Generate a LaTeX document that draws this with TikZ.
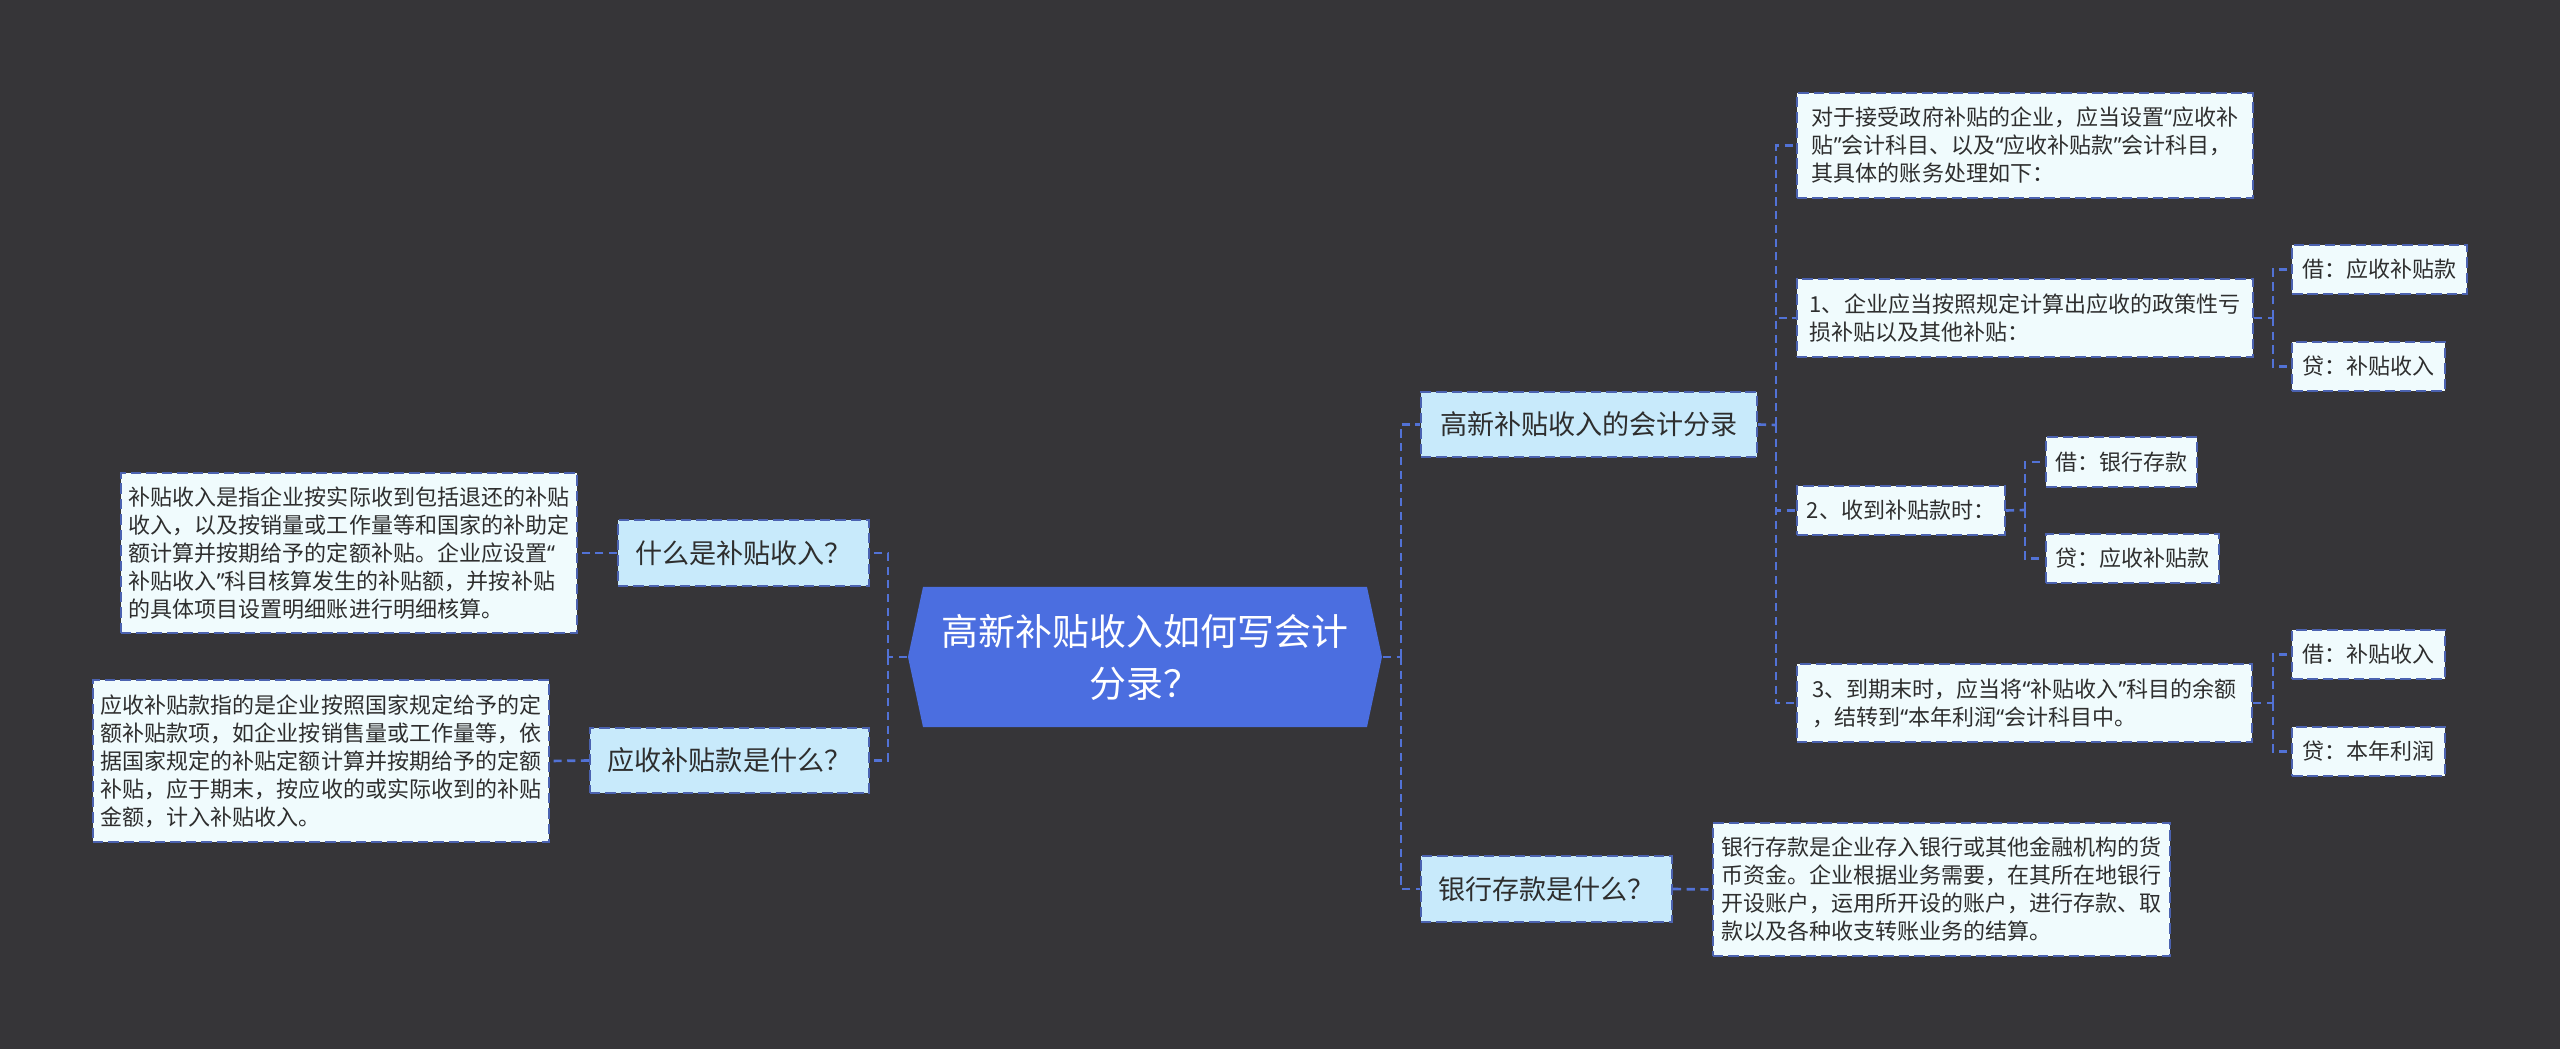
\documentclass[tikz,border=0pt]{standalone}
\usepackage{fontspec}
\setmainfont{Noto Sans CJK SC}
\newfontfamily\quotefont{Noto Sans}
\newcommand{\qo}{{\quotefont “}}
\newcommand{\qc}{{\quotefont ”}}

\definecolor{bgdark}{HTML}{363538}
\definecolor{rootblue}{HTML}{4B6EE0}
\definecolor{linkblue}{HTML}{5272D6}
\definecolor{qfill}{HTML}{C8EAFB}
\definecolor{leaffill}{HTML}{F0FBFD}
\definecolor{edgeblue}{HTML}{4B62B0}
\definecolor{inkgray}{HTML}{2E2E2E}

\begin{document}
\begin{tikzpicture}[x=0.01cm, y=-0.01cm,
    question/.style={draw=edgeblue, fill=qfill, line width=0.5pt,
        dash pattern=on 3pt off 1.4pt, inner sep=0pt, text=inkgray,
        font=\fontsize{7.7}{9}\selectfont},
    leaf/.style={draw=edgeblue, fill=leaffill, line width=0.5pt,
        dash pattern=on 3pt off 1.4pt, inner sep=0pt, text=inkgray,
        align=left, font=\fontsize{6.26}{7.97}\selectfont},
    link/.style={draw=linkblue, line width=0.75pt,
        dash pattern=on 2.3pt off 1.6pt}]

    % фон
    \fill[bgdark] (0,0) rectangle (2560,1049);
    \useasboundingbox (0,0) rectangle (2560,1049);

    % центр
    \coordinate (R1) at (908,657);
    \coordinate (R2) at (923,587);
    \coordinate (R3) at (1367,587);
    \coordinate (R4) at (1382,657);
    \coordinate (R5) at (1367,727);
    \coordinate (R6) at (923,727);
    \fill[rootblue] (R1) -- (R2) -- (R3) -- (R4) -- (R5) -- (R6) -- cycle;
    \node[minimum width=4.74cm, minimum height=1.4cm, inner sep=0pt,
        text=white, align=center, font=\fontsize{10.5}{14.8}\selectfont]
        (root) at (1145,657) {高新补贴收入如何写会计\\分录？};

    % шины
    \coordinate (busL) at (888,657);
    \coordinate (busR) at (1401,657);
    \coordinate (busQ3) at (1776,425);
    \coordinate (busS1) at (2273,318);
    \coordinate (busS2) at (2025,510);
    \coordinate (busS3) at (2273,703);

    % левая сторона
    \node[question, minimum width=2.51cm, minimum height=0.66cm]
        (q1) at (743.5,553) {什么是补贴收入？};
    \node[question, minimum width=2.79cm, minimum height=0.65cm]
        (q2) at (729.5,760.5) {应收补贴款是什么？};
    \node[leaf, minimum width=4.56cm, minimum height=1.6cm] (a1) at (349,553)
        {补贴收入是指企业按实际收到包括退还的补贴\\
         收入，以及按销量或工作量等和国家的补助定\\
         额计算并按期给予的定额补贴。企业应设置\qo\\
         补贴收入\qc 科目核算发生的补贴额，并按补贴\\
         的具体项目设置明细账进行明细核算。};
    \node[leaf, minimum width=4.56cm, minimum height=1.62cm] (a2) at (321,761)
        {应收补贴款指的是企业按照国家规定给予的定\\
         额补贴款项，如企业按销售量或工作量等，依\\
         据国家规定的补贴定额计算并按期给予的定额\\
         补贴，应于期末，按应收的或实际收到的补贴\\
         金额，计入补贴收入。};

    % правая сторона
    \node[question, minimum width=3.36cm, minimum height=0.65cm]
        (q3) at (1589,424.5) {高新补贴收入的会计分录};
    \node[question, minimum width=2.51cm, minimum height=0.66cm]
        (q4) at (1546.5,889) {银行存款是什么？};
    \node[leaf, minimum width=4.57cm, minimum height=1.33cm] (a4) at (1941.5,889.5)
        {银行存款是企业存入银行或其他金融机构的货\\
         币资金。企业根据业务需要，在其所在地银行\\
         开设账户，运用所开设的账户，进行存款、取\\
         款以及各种收支转账业务的结算。};

    \node[leaf, minimum width=4.56cm, minimum height=1.05cm] (s0) at (2025,145.5)
        {对于接受政府补贴的企业，应当设置\qo 应收补\\
         贴\qc 会计科目、以及\qo 应收补贴款\qc 会计科目，\\
         其具体的账务处理如下：};
    \node[leaf, minimum width=4.56cm, minimum height=0.78cm] (s1) at (2025,318)
        {1、企业应当按照规定计算出应收的政策性亏\\
         损补贴以及其他补贴：};
    \node[leaf, minimum width=2.08cm, minimum height=0.49cm] (s2) at (1901,510.5)
        {2、收到补贴款时：};
    \node[leaf, minimum width=4.55cm, minimum height=0.78cm] (s3) at (2024.5,703)
        {3、到期末时，应当将\qo 补贴收入\qc 科目的余额\\
         ，结转到\qo 本年利润\qo 会计科目中。};

    \node[leaf, minimum width=1.75cm, minimum height=0.49cm] (s1a) at (2379.5,269.5) {借：应收补贴款};
    \node[leaf, minimum width=1.53cm, minimum height=0.49cm] (s1b) at (2368.5,366.5) {贷：补贴收入};
    \node[leaf, minimum width=1.51cm, minimum height=0.50cm] (s2a) at (2121.5,462) {借：银行存款};
    \node[leaf, minimum width=1.73cm, minimum height=0.49cm] (s2b) at (2132.5,558.5) {贷：应收补贴款};
    \node[leaf, minimum width=1.53cm, minimum height=0.49cm] (s3a) at (2368.5,654.5) {借：补贴收入};
    \node[leaf, minimum width=1.53cm, minimum height=0.49cm] (s3b) at (2368.5,751.5) {贷：本年利润};

    % связи
    \draw[link] (root.west) -- (busL);
    \draw[link] (busL) |- (q1.east);
    \draw[link] (busL) |- (q2.east);
    \draw[link] (q1.west) -- (a1.east);
    \draw[link] (q2.west) -- (a2.east);

    \draw[link] (root.east) -- (busR);
    \draw[link] (busR) |- (q3.west);
    \draw[link] (busR) |- (q4.west);
    \draw[link] (q4.east) -- (a4.west);

    \draw[link] (q3.east) -- (busQ3);
    \draw[link] (busQ3) |- (s0.west);
    \draw[link] (busQ3) |- (s1.west);
    \draw[link] (busQ3) |- (s2.west);
    \draw[link] (busQ3) |- (s3.west);

    \draw[link] (s1.east) -- (busS1);
    \draw[link] (busS1) |- (s1a.west);
    \draw[link] (busS1) |- (s1b.west);
    \draw[link] (s2.east) -- (busS2);
    \draw[link] (busS2) |- (s2a.west);
    \draw[link] (busS2) |- (s2b.west);
    \draw[link] (s3.east) -- (busS3);
    \draw[link] (busS3) |- (s3a.west);
    \draw[link] (busS3) |- (s3b.west);

\end{tikzpicture}
\end{document}
